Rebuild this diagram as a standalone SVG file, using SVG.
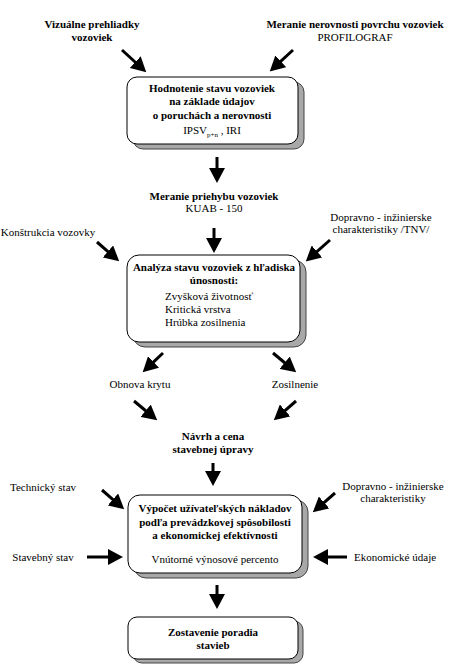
<svg xmlns="http://www.w3.org/2000/svg" width="450" height="664" viewBox="0 0 450 664">
<style>
text{font-family:"Liberation Serif","Times New Roman",serif;font-size:11px;fill:#000}
.b{font-weight:bold}
.c{text-anchor:middle}
.box{fill:#fff;stroke:#000;stroke-width:1}
.sh{fill:#a8a8a8;stroke:#444;stroke-width:1}
.ar{stroke:#000;stroke-width:3;fill:none;marker-end:url(#ah)}
</style>
<defs>
<marker id="ah" viewBox="0 0 15 16" refX="2" refY="8" markerWidth="15" markerHeight="16" markerUnits="userSpaceOnUse" orient="auto">
<path d="M0,0 L15,8 L0,16 z" fill="#000"/>
</marker>
</defs>
<rect width="450" height="664" fill="#fff"/>

<g id="connectors">
<line class="ar" x1="122" y1="50" x2="136.7" y2="63.5"/>
<line class="ar" x1="293" y1="50" x2="279.3" y2="62.6"/>
<line class="ar" x1="217" y1="157" x2="217" y2="170"/>
<line class="ar" x1="214" y1="228" x2="214" y2="240"/>
<line class="ar" x1="97" y1="242" x2="109.4" y2="252.8"/>
<line class="ar" x1="330" y1="240" x2="315.5" y2="252.8"/>
<line class="ar" x1="163" y1="353" x2="152.1" y2="363.3"/>
<line class="ar" x1="273" y1="353" x2="286.2" y2="364"/>
<line class="ar" x1="134" y1="401" x2="147.2" y2="412"/>
<line class="ar" x1="296" y1="401" x2="283.6" y2="411.8"/>
<line class="ar" x1="213" y1="463" x2="213" y2="473"/>
<line class="ar" x1="102" y1="490" x2="114.4" y2="500.8"/>
<line class="ar" x1="87" y1="557" x2="110" y2="557"/>
<line class="ar" x1="335" y1="493" x2="322.6" y2="503.8"/>
<line class="ar" x1="347" y1="557" x2="326" y2="557"/>
<line class="ar" x1="217" y1="585" x2="217" y2="596"/>
</g>

<g id="src-vizualne">
<text class="b c" x="92" y="28">Vizuálne prehliadky</text>
<text class="b c" x="92" y="41">vozoviek</text>
</g>
<g id="src-meranie-nerovnosti">
<text class="b c" x="355" y="28">Meranie nerovnosti povrchu vozoviek</text>
<text class="c" x="355" y="41">PROFILOGRAF</text>
</g>

<g id="box-hodnotenie">
<rect class="sh" x="133" y="82" width="171" height="67" rx="10"/>
<rect class="box" x="127" y="77" width="171" height="67" rx="10"/>
<text class="b c" x="212" y="92">Hodnotenie stavu vozoviek</text>
<text class="b c" x="212" y="105">na základe údajov</text>
<text class="b c" x="212" y="119">o poruchách a nerovnosti</text>
<text class="c" x="212" y="134">IPSV<tspan font-size="7" dy="3">p+n</tspan><tspan dy="-3"> , IRI</tspan></text>
</g>

<g id="node-meranie-priehybu">
<text class="b c" x="214" y="200">Meranie priehybu vozoviek</text>
<text class="c" x="214" y="212">KUAB - 150</text>
</g>
<g id="src-konstrukcia">
<text class="c" x="48" y="236">Konštrukcia vozovky</text>
</g>
<g id="src-dopravno-tnv">
<text class="c" x="381" y="221">Dopravno - inžinierske</text>
<text class="c" x="381" y="233">charakteristiky /TNV/</text>
</g>

<g id="box-analyza">
<rect class="sh" x="133" y="260" width="173" height="87" rx="12"/>
<rect class="box" x="127" y="255" width="173" height="87" rx="12"/>
<text class="b c" x="214" y="271">Analýza stavu vozoviek z hľadiska</text>
<text class="b c" x="214" y="284">únosnosti:</text>
<text x="165" y="300">Zvyšková životnosť</text>
<text x="165" y="313">Kritická vrstva</text>
<text x="165" y="326">Hrúbka zosilnenia</text>
</g>

<g id="node-obnova">
<text class="c" x="140" y="388">Obnova krytu</text>
</g>
<g id="node-zosilnenie">
<text class="c" x="295" y="388">Zosilnenie</text>
</g>

<g id="node-navrh">
<text class="b c" x="213" y="440">Návrh a cena</text>
<text class="b c" x="213" y="453">stavebnej úpravy</text>
</g>

<g id="src-technicky">
<text class="c" x="43" y="491">Technický stav</text>
</g>
<g id="src-stavebny">
<text class="c" x="43" y="561">Stavebný stav</text>
</g>
<g id="src-dopravno">
<text class="c" x="393" y="490">Dopravno - inžinierske</text>
<text class="c" x="393" y="502">charakteristiky</text>
</g>
<g id="src-ekonomicke">
<text class="c" x="395" y="561">Ekonomické údaje</text>
</g>

<g id="box-vypocet">
<rect class="sh" x="134" y="500" width="174" height="78" rx="12"/>
<rect class="box" x="128" y="495" width="174" height="78" rx="12"/>
<text class="b c" x="215" y="512">Výpočet užívateľských nákladov</text>
<text class="b c" x="215" y="526">podľa prevádzkovej spôsobilosti</text>
<text class="b c" x="215" y="539">a ekonomickej efektívnosti</text>
<text class="c" x="215" y="563">Vnútorné výnosové percento</text>
</g>

<g id="box-zostavenie">
<rect class="sh" x="133" y="621" width="170" height="42" rx="9"/>
<rect class="box" x="128" y="617" width="170" height="42" rx="9"/>
<text class="b c" x="213" y="636">Zostavenie poradia</text>
<text class="b c" x="213" y="649">stavieb</text>
</g>
</svg>
